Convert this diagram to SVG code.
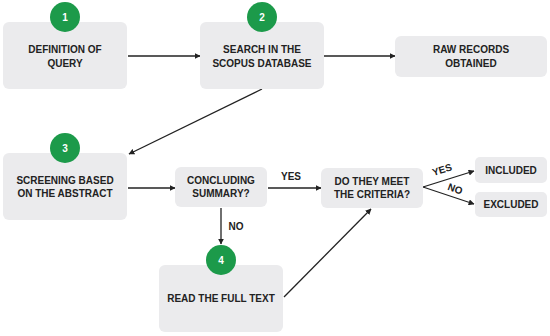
<svg xmlns="http://www.w3.org/2000/svg" width="550" height="336" viewBox="0 0 550 336">
<style>
.box{fill:#ebebed}
.num{fill:#1c9a4a}
.t{font-family:"Liberation Sans",Arial,sans-serif;font-weight:bold;font-size:10px;fill:#222;text-anchor:middle}
.n{font-family:"Liberation Sans",Arial,sans-serif;font-weight:bold;font-size:10px;fill:#fff;text-anchor:middle}
.c{stroke:#222;stroke-width:1.3;fill:none;marker-end:url(#ah)}
</style>
<defs>
<marker id="ah" viewBox="0 0 10 10" refX="9" refY="5" markerWidth="6" markerHeight="6" markerUnits="userSpaceOnUse" orient="auto">
<path d="M0,0 L10,5 L0,10 Z" fill="#222"/>
</marker>
</defs>
<rect width="550" height="336" fill="#fff"/>
<g id="connectors">
<line class="c" x1="128" y1="56" x2="200" y2="56"/>
<line class="c" x1="324" y1="56" x2="395" y2="56"/>
<line class="c" x1="262" y1="89" x2="129" y2="154"/>
<line class="c" x1="128" y1="188" x2="175" y2="188"/>
<line class="c" x1="268" y1="188" x2="321" y2="188"/>
<line class="c" x1="221" y1="208" x2="221" y2="244"/>
<line class="c" x1="284" y1="297" x2="371" y2="209"/>
<line class="c" x1="423" y1="187" x2="474" y2="171"/>
<line class="c" x1="423" y1="187" x2="474" y2="204"/>
<text class="t" x="291" y="180">YES</text>
<text class="t" x="236" y="230">NO</text>
<text class="t" x="0" y="0" transform="translate(443,173) rotate(-17)">YES</text>
<text class="t" x="0" y="0" transform="translate(454,192) rotate(20)">NO</text>
</g>
<g id="node-definition">
<rect class="box" x="3" y="22" width="124" height="67" rx="6"/>
<circle class="num" cx="65" cy="17" r="15"/>
<text class="n" x="65" y="21">1</text>
<text class="t" x="65" y="53">DEFINITION OF</text>
<text class="t" x="65" y="67">QUERY</text>
</g>
<g id="node-search">
<rect class="box" x="200" y="22" width="124" height="67" rx="6"/>
<circle class="num" cx="262" cy="17" r="15"/>
<text class="n" x="262" y="21">2</text>
<text class="t" x="262" y="53">SEARCH IN THE</text>
<text class="t" x="262" y="67">SCOPUS DATABASE</text>
</g>
<g id="node-raw">
<rect class="box" x="395" y="36" width="152" height="41" rx="6"/>
<text class="t" x="471" y="53">RAW RECORDS</text>
<text class="t" x="471" y="67">OBTAINED</text>
</g>
<g id="node-screening">
<rect class="box" x="3" y="153" width="124" height="67" rx="6"/>
<circle class="num" cx="65" cy="148" r="15"/>
<text class="n" x="65" y="152">3</text>
<text class="t" x="65" y="184">SCREENING BASED</text>
<text class="t" x="65" y="197">ON THE ABSTRACT</text>
</g>
<g id="node-concluding">
<rect class="box" x="175" y="167" width="92" height="40" rx="6"/>
<text class="t" x="221" y="184">CONCLUDING</text>
<text class="t" x="221" y="197">SUMMARY?</text>
</g>
<g id="node-criteria">
<rect class="box" x="321" y="168" width="102" height="40" rx="6"/>
<text class="t" x="372" y="185">DO THEY MEET</text>
<text class="t" x="372" y="198">THE CRITERIA?</text>
</g>
<g id="node-included">
<rect class="box" x="475" y="157" width="72" height="26" rx="5"/>
<text class="t" x="511" y="174">INCLUDED</text>
</g>
<g id="node-excluded">
<rect class="box" x="475" y="192" width="72" height="25" rx="5"/>
<text class="t" x="511" y="208">EXCLUDED</text>
</g>
<g id="node-read">
<rect class="box" x="159" y="265" width="124" height="67" rx="6"/>
<circle class="num" cx="221" cy="260" r="15"/>
<text class="n" x="221" y="264">4</text>
<text class="t" x="221" y="302">READ THE FULL TEXT</text>
</g>
</svg>
